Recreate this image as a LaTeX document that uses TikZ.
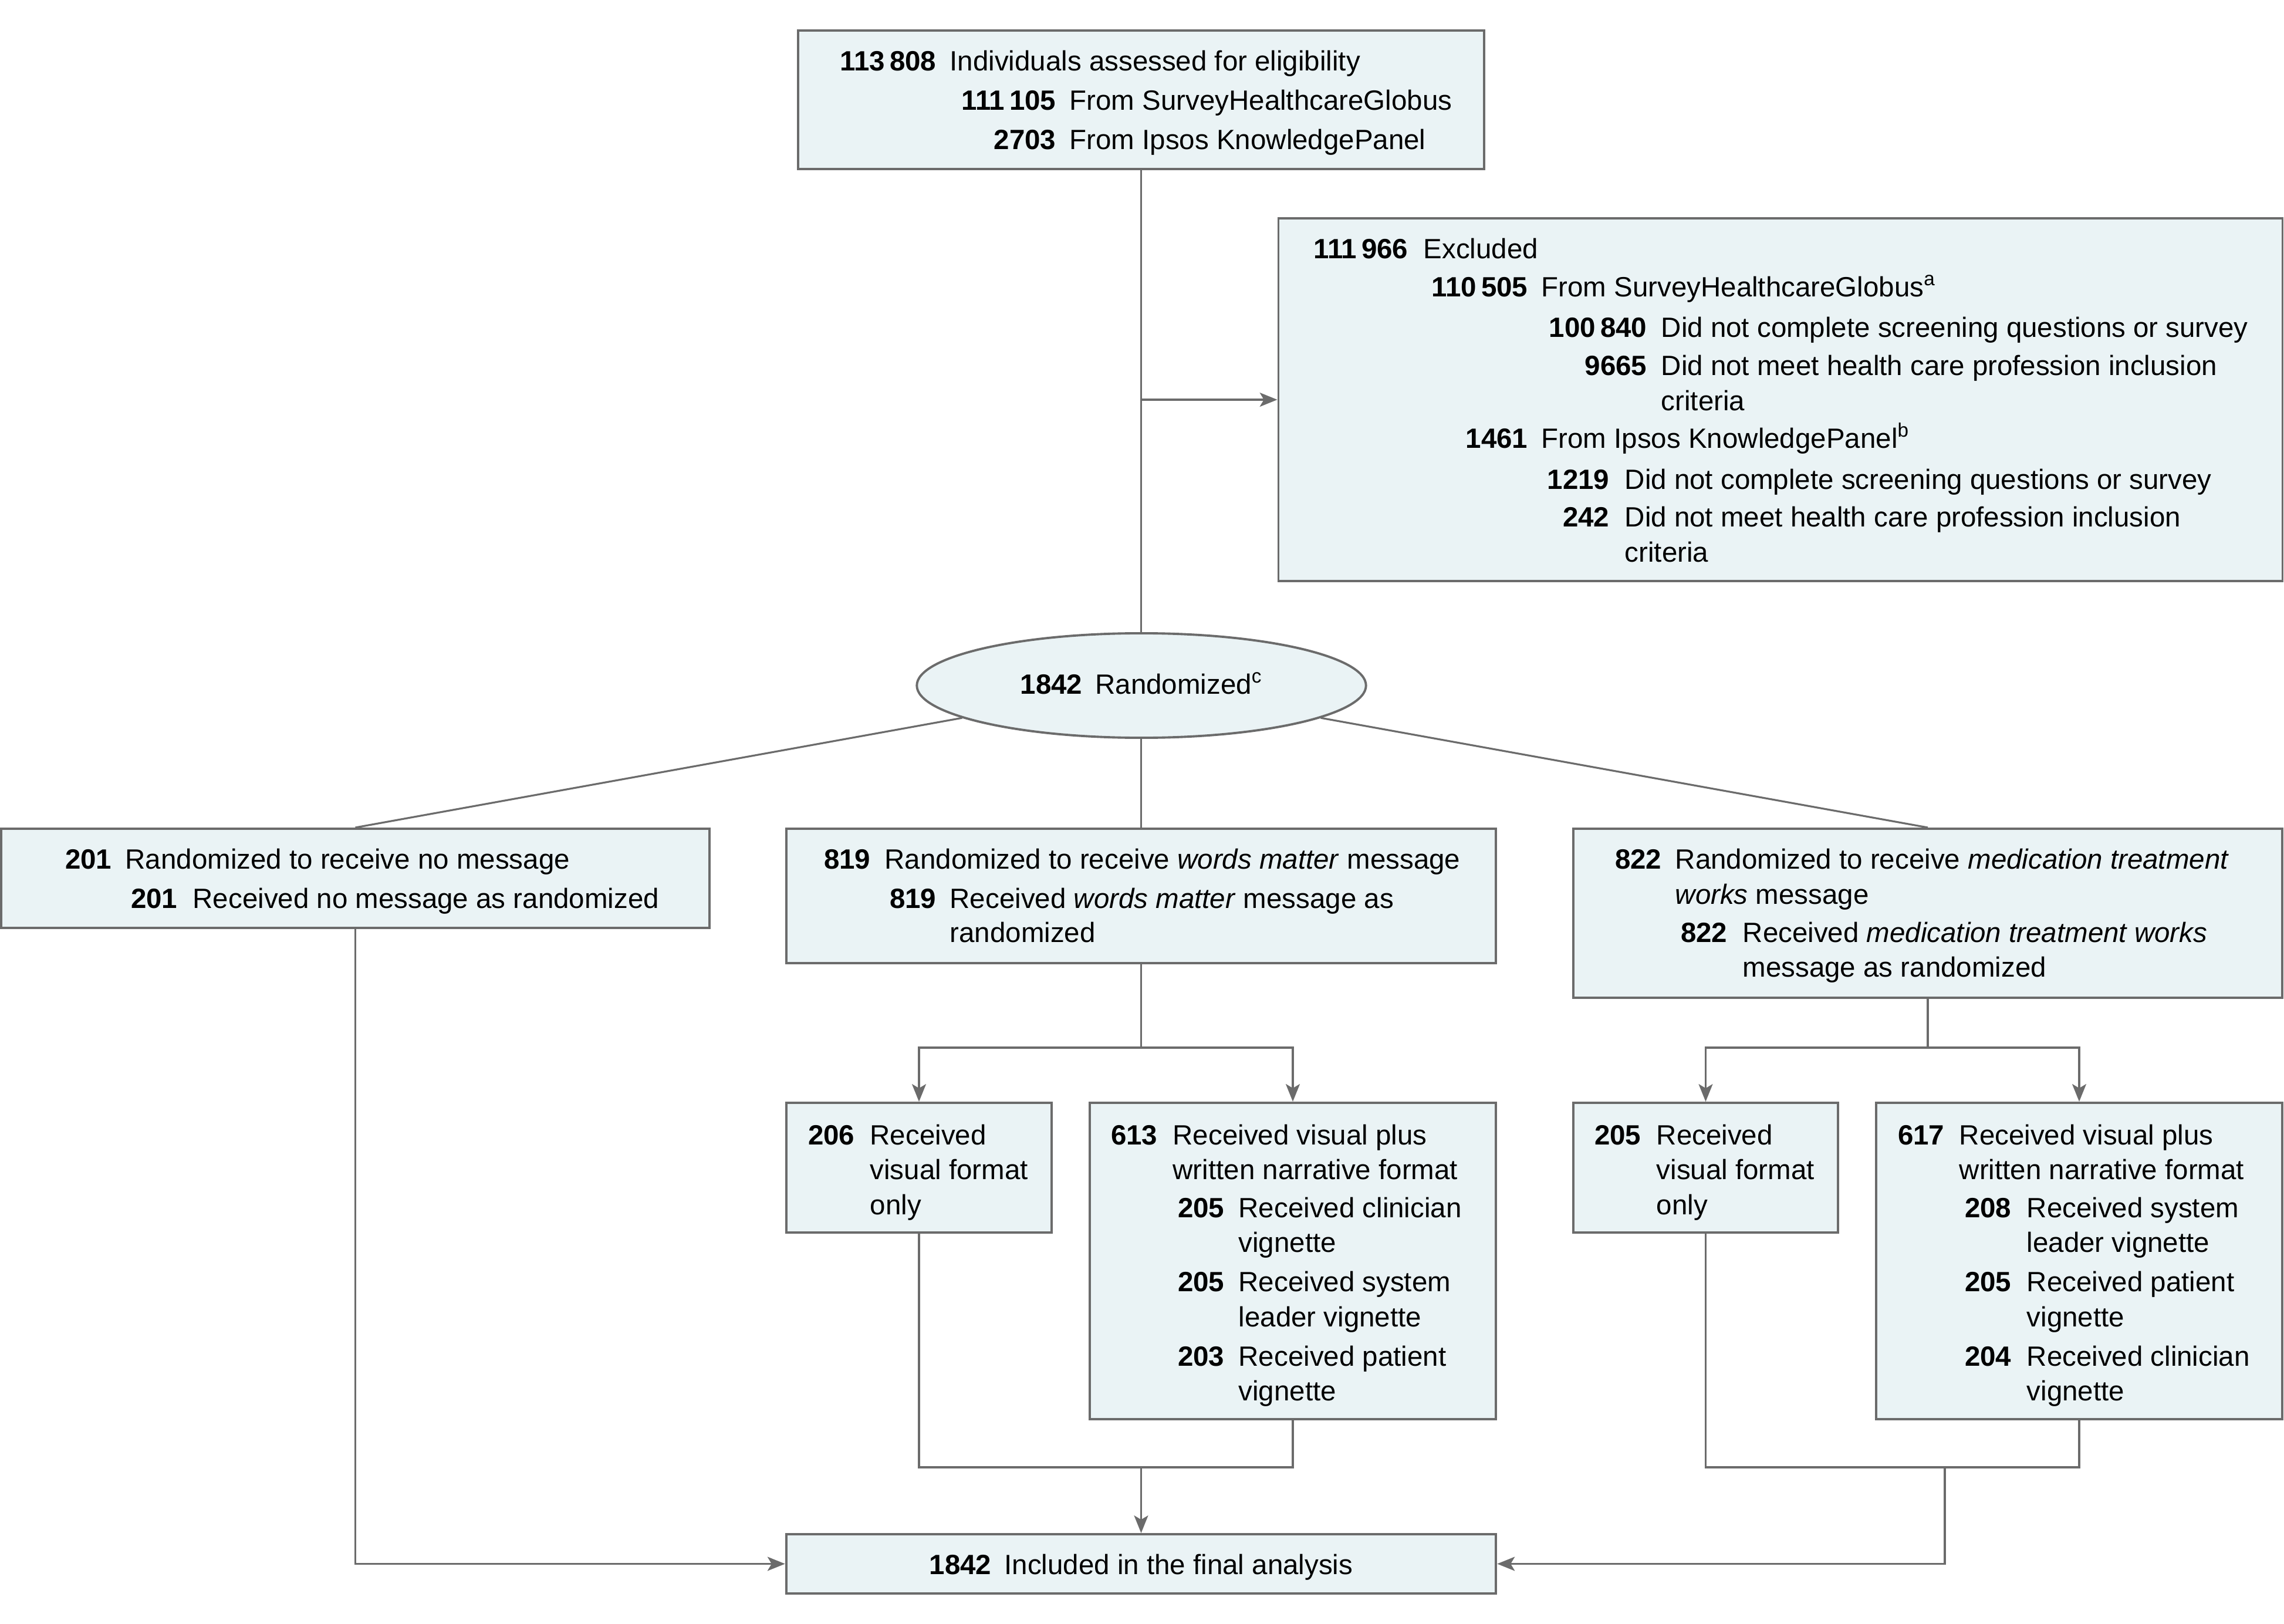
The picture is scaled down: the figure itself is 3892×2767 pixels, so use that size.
\documentclass[tikz,border=0pt]{standalone}
\usepackage{fontspec}
\setmainfont{Liberation Sans}
\usetikzlibrary{shapes.geometric,arrows.meta}
\definecolor{lc}{HTML}{6B6B6B}
\definecolor{bf}{HTML}{EAF3F5}
\newcommand\myfs{\fontsize{13.5}{16.8}\selectfont}
\newcommand\frow[6]{%
  \node[numt] (#1n) at (#2,#4) {#5};
  \node[txtt] (#1t) at (#3,#4) {#6};}
\newcommand\fcont[4]{\node[txtt] (#1) at (#2,#3) {#4};}
\begin{document}
\begin{tikzpicture}[x=0.01cm,y=-0.01cm,
  box/.style={draw=lc, line width=1.1pt, fill=bf, inner sep=0pt, rectangle},
  numt/.style={anchor=mid east, inner sep=0pt, yshift=-0.07cm, font=\myfs\bfseries},
  txtt/.style={anchor=mid west, inner sep=0pt, yshift=-0.07cm, font=\myfs},
  ctext/.style={anchor=mid, inner sep=0pt, yshift=-0.07cm, font=\myfs},
  conn/.style={draw=lc, line width=0.9pt},
  arr/.style={conn, -{Stealth[length=8.5pt, width=6.8pt, inset=2pt]}}]
\useasboundingbox (0,0) rectangle (3892,2767);
\fill[white] (0,0) rectangle (3892,2767);

% boxes
\node[box, minimum width=11.69cm, minimum height=2.36cm] (top) at (1944.5,170) {};
\node[box, minimum width=17.10cm, minimum height=6.18cm] (ex) at (3034,681) {};
\node[box, ellipse, minimum width=7.65cm, minimum height=1.78cm] (rand) at (1945,1168) {};
\node[box, minimum width=12.07cm, minimum height=1.69cm] (A) at (605.5,1496.5) {};
\node[box, minimum width=12.09cm, minimum height=2.29cm] (B) at (1944.5,1526.5) {};
\node[box, minimum width=12.08cm, minimum height=2.88cm] (C) at (3285,1556) {};
\node[box, minimum width=4.52cm, minimum height=2.21cm] (B1) at (1566,1989.5) {};
\node[box, minimum width=6.92cm, minimum height=5.39cm] (B2) at (2203,2148.5) {};
\node[box, minimum width=4.51cm, minimum height=2.21cm] (C1) at (2906.5,1989.5) {};
\node[box, minimum width=6.92cm, minimum height=5.39cm] (C2) at (3543,2148.5) {};
\node[box, minimum width=12.09cm, minimum height=1.01cm] (F) at (1944.5,2664.5) {};

% top box text
\frow{t1}{1596}{1618}{104}{113\,808}{Individuals assessed for eligibility}
\frow{t2}{1800}{1822}{171}{111\,105}{From SurveyHealthcareGlobus}
\frow{t3}{1800}{1822}{238}{2703}{From Ipsos KnowledgePanel}

% excluded
\frow{e1}{2400}{2425}{424}{111\,966}{Excluded}
\frow{e2}{2604}{2626}{489}{110\,505}{From SurveyHealthcareGlobus\textsuperscript{a}}
\frow{e3}{2807}{2830}{558}{100\,840}{Did not complete screening questions or survey}
\frow{e4}{2807}{2830}{623}{9665}{Did not meet health care profession inclusion}
\fcont{e4c}{2830}{683}{criteria}
\frow{e5}{2604}{2626}{747}{1461}{From Ipsos KnowledgePanel\textsuperscript{b}}
\frow{e6}{2743}{2768}{817}{1219}{Did not complete screening questions or survey}
\frow{e7}{2743}{2768}{881}{242}{Did not meet health care profession inclusion}
\fcont{e7c}{2768}{941}{criteria}

% randomized
\node[ctext] (randt) at (1945,1166) {\textbf{1842}\hspace{0.22cm}Randomized\textsuperscript{c}};

% A
\frow{a1}{191}{213}{1464}{201}{Randomized to receive no message}
\frow{a2}{303}{328}{1531}{201}{Received no message as randomized}

% B
\frow{b1}{1484}{1507}{1464}{819}{Randomized to receive \textit{words matter} message}
\frow{b2}{1596}{1618}{1531}{819}{Received \textit{words matter} message as}
\fcont{b2c}{1618}{1589}{randomized}

% C
\frow{c1}{2832}{2854}{1464}{822}{Randomized to receive \textit{medication treatment}}
\fcont{c1c}{2854}{1524}{\textit{works} message}
\frow{c2}{2944}{2969}{1589}{822}{Received \textit{medication treatment works}}
\fcont{c2c}{2969}{1648}{message as randomized}

% B1
\frow{ba}{1457}{1482}{1934}{206}{Received}
\fcont{bab}{1482}{1993}{visual format}
\fcont{bac}{1482}{2053}{only}

% B2
\frow{bb}{1973}{1998}{1934}{613}{Received visual plus}
\fcont{bbb}{1998}{1993}{written narrative format}
\frow{bb1}{2087}{2110}{2058}{205}{Received clinician}
\fcont{bb1c}{2110}{2117}{vignette}
\frow{bb2}{2087}{2110}{2184}{205}{Received system}
\fcont{bb2c}{2110}{2244}{leader vignette}
\frow{bb3}{2087}{2110}{2311}{203}{Received patient}
\fcont{bb3c}{2110}{2370}{vignette}

% C1
\frow{ca}{2797}{2822}{1934}{205}{Received}
\fcont{cab}{2822}{1993}{visual format}
\fcont{cac}{2822}{2053}{only}

% C2
\frow{cb}{3314}{3338}{1934}{617}{Received visual plus}
\fcont{cbb}{3338}{1993}{written narrative format}
\frow{cb1}{3428}{3453}{2058}{208}{Received system}
\fcont{cb1c}{3453}{2117}{leader vignette}
\frow{cb2}{3428}{3453}{2184}{205}{Received patient}
\fcont{cb2c}{3453}{2244}{vignette}
\frow{cb3}{3428}{3453}{2311}{204}{Received clinician}
\fcont{cb3c}{3453}{2370}{vignette}

% final
\node[ctext] (Ft) at (1944.5,2666) {\textbf{1842}\hspace{0.22cm}Included in the final analysis};

% connectors
\coordinate (exj) at (1944,681);
\draw[conn] (top.south) -- (top.south |- rand.north);
\draw[arr] (exj) -- (ex.west);
\draw[conn] (rand) -- (A.north);
\draw[conn] (B.north |- rand.south) -- (B.north);
\draw[conn] (rand) -- (C.north);

\coordinate (bj) at (1944.5,1785);
\coordinate (cj) at (3285,1785);
\draw[conn] (B.south) -- (bj);
\draw[arr] (bj) -| (B1.north);
\draw[arr] (bj) -| (B2.north);
\draw[conn] (C.south) -- (cj);
\draw[arr] (cj) -| (C1.north);
\draw[arr] (cj) -| (C2.north);

\coordinate (bm) at (1944.5,2500);
\coordinate (cm) at (3314,2500);
\draw[conn] (B1.south) |- (B2.south |- bm) -- (B2.south);
\draw[arr] (bm) -- (F.north);
\draw[conn] (C1.south) |- (C2.south |- cm) -- (C2.south);
\draw[arr] (cm) |- (F.east);
\draw[arr] (A.south) |- (F.west);
\end{tikzpicture}
\end{document}
